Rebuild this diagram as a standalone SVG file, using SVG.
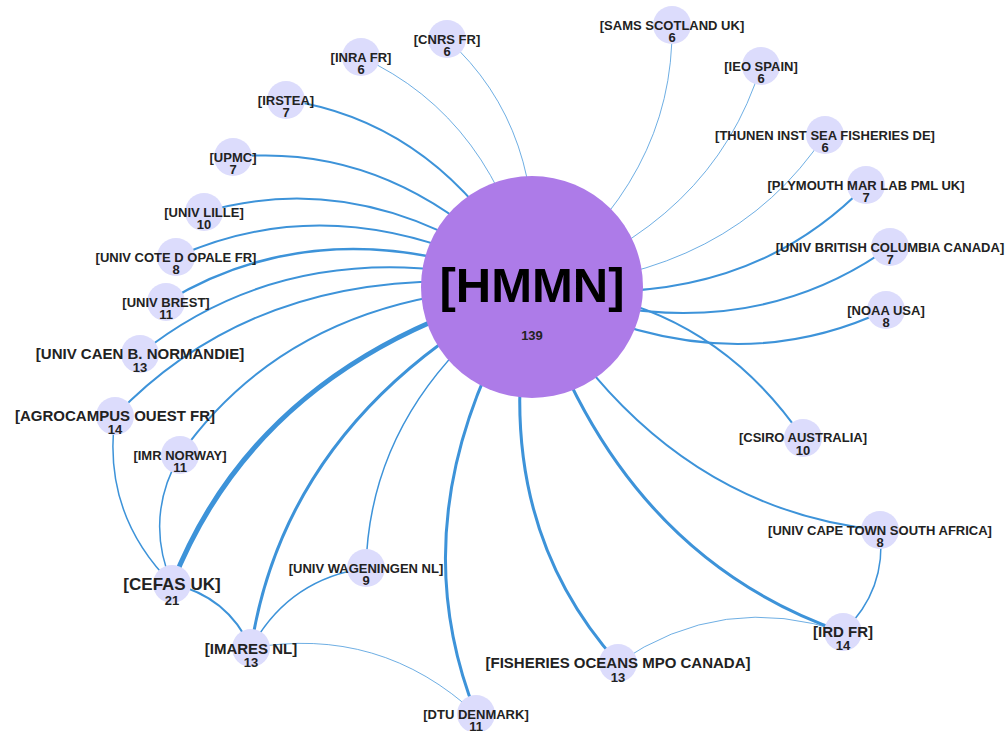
<svg xmlns="http://www.w3.org/2000/svg" width="1005" height="731" viewBox="0 0 1005 731" xml:space="preserve">
<style>
.e{fill:none;stroke:#3d93d9;stroke-linecap:round}
.t{stroke-opacity:0.75}
.n{fill:#dcdcfc}
.hub{fill:#ad7be8}
text{font-family:"Liberation Sans",Arial,sans-serif;font-weight:bold;fill:#222;text-anchor:middle}
.s{font-size:13px}
.m{font-size:15px}
.l{font-size:17px}
.num{font-size:13px}
</style>
<rect width="1005" height="731" fill="#ffffff"/>
<g id="connectors">
<path class="e t" stroke-width="1" d="M447,39 Q547,129 532,287"/>
<path class="e t" stroke-width="1" d="M361,57 Q495,118 532,287"/>
<path class="e" stroke-width="2" d="M286,100 Q443,123 532,287"/>
<path class="e" stroke-width="2" d="M233,157 Q400,141 532,287"/>
<path class="e" stroke-width="2" d="M204,212 Q370,164 532,287"/>
<path class="e" stroke-width="2" d="M176,257 Q344,181.5 532,287"/>
<path class="e" stroke-width="2.5" d="M166,302 Q327,204 532,287"/>
<path class="e" stroke-width="2" d="M140,354 Q300,226 532,287"/>
<path class="e" stroke-width="2" d="M115,416 Q270,254 532,287"/>
<path class="e" stroke-width="2" d="M180,455 Q296,291 532,287"/>
<path class="e" stroke-width="5" d="M172,584 Q260,360 532,287"/>
<path class="e" stroke-width="3" d="M251,648 Q287,415 532,287"/>
<path class="e" stroke-width="1.5" d="M366,568 Q370,400 532,287"/>
<path class="e" stroke-width="3" d="M476,714 Q394,508 532,287"/>
<path class="e" stroke-width="3" d="M618,663 Q485,515 532,287"/>
<path class="e" stroke-width="3" d="M843,632 Q617,554 532,287"/>
<path class="e" stroke-width="2" d="M880,530 Q663,508 532,287"/>
<path class="e" stroke-width="2" d="M532,287 Q705,295 803,438"/>
<path class="e" stroke-width="2" d="M886,310 Q721,388 532,287"/>
<path class="e" stroke-width="2" d="M890,247 Q739,354.5 532,287"/>
<path class="e" stroke-width="2" d="M866,185 Q741,314 532,287"/>
<path class="e t" stroke-width="1" d="M825,135 Q731,277 532,287"/>
<path class="e t" stroke-width="1" d="M761,66 Q713,223 532,287"/>
<path class="e t" stroke-width="1" d="M672,25 Q674.5,178 532,287"/>
<path class="e" stroke-width="1.5" d="M172,584 Q101.75,514 115,416"/>
<path class="e" stroke-width="1.5" d="M172,584 Q143.75,517.5 180,455"/>
<path class="e" stroke-width="2" d="M172,584 Q227.5,596 251,648"/>
<path class="e" stroke-width="1.5" d="M251,648 Q288.5,579 366,568"/>
<path class="e t" stroke-width="1" d="M251,648 Q380,625 476,714"/>
<path class="e t" stroke-width="1" d="M618,663 Q722.75,591 843,632"/>
<path class="e" stroke-width="1.5" d="M880,530 Q887,590 843,632"/>
</g>
<g id="node-hmmn"><circle class="hub" cx="532" cy="287" r="111"/><text x="532" y="302" style="font-size:49px;fill:#000">[HMMN]</text><text class="num" x="532" y="340">139</text></g>
<g id="node-cnrs"><circle class="n" cx="447" cy="39" r="19"/><text class="s" x="447" y="44">[CNRS FR]</text><text class="num" x="447" y="56">6</text></g>
<g id="node-inra"><circle class="n" cx="361" cy="57" r="19"/><text class="s" x="361" y="62">[INRA FR]</text><text class="num" x="361" y="74">6</text></g>
<g id="node-irstea"><circle class="n" cx="286" cy="100" r="19"/><text class="s" x="286" y="105">[IRSTEA]</text><text class="num" x="286" y="117">7</text></g>
<g id="node-upmc"><circle class="n" cx="233" cy="157" r="19"/><text class="s" x="233" y="162">[UPMC]</text><text class="num" x="233" y="174">7</text></g>
<g id="node-lille"><circle class="n" cx="204" cy="212" r="19"/><text class="s" x="204" y="217">[UNIV LILLE]</text><text class="num" x="204" y="229">10</text></g>
<g id="node-cote"><circle class="n" cx="176" cy="257" r="19"/><text class="s" x="176" y="262">[UNIV COTE D OPALE FR]</text><text class="num" x="176" y="274">8</text></g>
<g id="node-brest"><circle class="n" cx="166" cy="302" r="19"/><text class="s" x="166" y="307">[UNIV BREST]</text><text class="num" x="166" y="319">11</text></g>
<g id="node-caen"><circle class="n" cx="140" cy="354" r="19"/><text class="m" x="140" y="359">[UNIV CAEN B. NORMANDIE]</text><text class="num" x="140" y="372">13</text></g>
<g id="node-agro"><circle class="n" cx="115" cy="416" r="19"/><text class="m" x="115" y="421">[AGROCAMPUS OUEST  FR]</text><text class="num" x="115" y="434">14</text></g>
<g id="node-imr"><circle class="n" cx="180" cy="455" r="19"/><text class="s" x="180" y="460">[IMR NORWAY]</text><text class="num" x="180" y="472">11</text></g>
<g id="node-cefas"><circle class="n" cx="172" cy="584" r="19"/><text class="l" x="172" y="590">[CEFAS UK]</text><text class="num" x="172" y="605">21</text></g>
<g id="node-imares"><circle class="n" cx="251" cy="648" r="19"/><text class="m" x="251" y="654">[IMARES NL]</text><text class="num" x="251" y="667">13</text></g>
<g id="node-wageningen"><circle class="n" cx="366" cy="568" r="19"/><text class="s" x="366" y="573">[UNIV WAGENINGEN NL]</text><text class="num" x="366" y="585">9</text></g>
<g id="node-dtu"><circle class="n" cx="476" cy="714" r="19"/><text class="s" x="476" y="719">[DTU DENMARK]</text><text class="num" x="476" y="731">11</text></g>
<g id="node-fisheries"><circle class="n" cx="618" cy="663" r="19"/><text class="m" x="618" y="668">[FISHERIES OCEANS MPO CANADA]</text><text class="num" x="618" y="682">13</text></g>
<g id="node-ird"><circle class="n" cx="843" cy="632" r="19"/><text class="m" x="843" y="637">[IRD FR]</text><text class="num" x="843" y="650">14</text></g>
<g id="node-capetown"><circle class="n" cx="880" cy="530" r="19"/><text class="s" x="880" y="535">[UNIV CAPE TOWN SOUTH AFRICA]</text><text class="num" x="880" y="547">8</text></g>
<g id="node-csiro"><circle class="n" cx="803" cy="438" r="19"/><text class="s" x="803" y="442">[CSIRO AUSTRALIA]</text><text class="num" x="803" y="455">10</text></g>
<g id="node-noaa"><circle class="n" cx="886" cy="310" r="19"/><text class="s" x="886" y="315">[NOAA  USA]</text><text class="num" x="886" y="327">8</text></g>
<g id="node-ubc"><circle class="n" cx="890" cy="247" r="19"/><text class="s" x="890" y="252">[UNIV BRITISH COLUMBIA CANADA]</text><text class="num" x="890" y="264">7</text></g>
<g id="node-plymouth"><circle class="n" cx="866" cy="185" r="19"/><text class="s" x="866" y="190">[PLYMOUTH MAR LAB PML UK]</text><text class="num" x="866" y="202">7</text></g>
<g id="node-thunen"><circle class="n" cx="825" cy="135" r="19"/><text class="s" x="825" y="140">[THUNEN INST SEA FISHERIES DE]</text><text class="num" x="825" y="152">6</text></g>
<g id="node-ieo"><circle class="n" cx="761" cy="66" r="19"/><text class="s" x="761" y="71">[IEO  SPAIN]</text><text class="num" x="761" y="83">6</text></g>
<g id="node-sams"><circle class="n" cx="672" cy="25" r="19"/><text class="s" x="672" y="30">[SAMS SCOTLAND UK]</text><text class="num" x="672" y="42">6</text></g>
</svg>
